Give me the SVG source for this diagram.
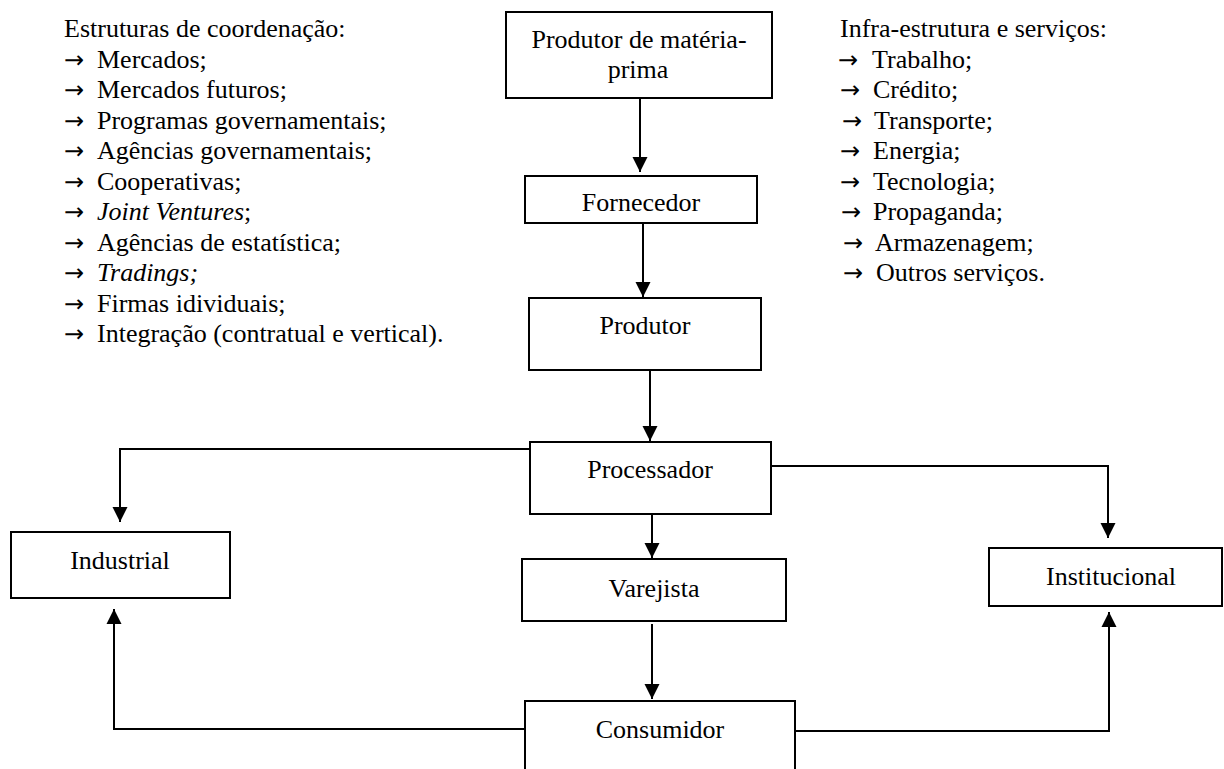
<svg xmlns="http://www.w3.org/2000/svg" width="1224" height="769" viewBox="0 0 1224 769">
<defs>
<style>
.box{fill:#fff;stroke:#000;stroke-width:2}
.lbl{font-family:"Liberation Serif","Times New Roman",serif;font-size:26px;fill:#000;text-anchor:middle}
.lst{font-family:"Liberation Serif","Times New Roman",serif;font-size:26px;fill:#000}
.it{font-style:italic}
.ar{font-family:"DejaVu Sans","Liberation Serif",sans-serif;font-size:24px}
.cn{fill:none;stroke:#000;stroke-width:2}
</style>
<marker id="ah" markerUnits="userSpaceOnUse" markerWidth="16" markerHeight="16" viewBox="0 0 16 16" refX="15" refY="8" orient="auto">
<path d="M0,0.5 L15,8 L0,15.5 Z" fill="#000"/>
</marker>
</defs>
<rect width="1224" height="769" fill="#fff"/>
<g id="list-left" class="lst">
<text x="64" y="37">Estruturas de coordenação:</text>
<text x="64" y="67.5"><tspan class="ar">→</tspan><tspan x="97">Mercados;</tspan></text>
<text x="64" y="98"><tspan class="ar">→</tspan><tspan x="97">Mercados futuros;</tspan></text>
<text x="64" y="128.5"><tspan class="ar">→</tspan><tspan x="97">Programas governamentais;</tspan></text>
<text x="64" y="159"><tspan class="ar">→</tspan><tspan x="97">Agências governamentais;</tspan></text>
<text x="64" y="189.5"><tspan class="ar">→</tspan><tspan x="97">Cooperativas;</tspan></text>
<text x="64" y="220"><tspan class="ar">→</tspan><tspan x="97" class="it">Joint Ventures</tspan><tspan>;</tspan></text>
<text x="64" y="250.5"><tspan class="ar">→</tspan><tspan x="97">Agências de estatística;</tspan></text>
<text x="64" y="281"><tspan class="ar">→</tspan><tspan x="97" class="it">Tradings;</tspan></text>
<text x="64" y="311.5"><tspan class="ar">→</tspan><tspan x="97">Firmas idividuais;</tspan></text>
<text x="64" y="342"><tspan class="ar">→</tspan><tspan x="97">Integração (contratual e vertical).</tspan></text>
</g>
<g id="list-right" class="lst">
<text x="840" y="37">Infra-estrutura e serviços:</text>
<text x="838" y="67.5"><tspan class="ar">→</tspan><tspan x="872">Trabalho;</tspan></text>
<text x="840" y="98"><tspan class="ar">→</tspan><tspan x="873">Crédito;</tspan></text>
<text x="842" y="128.5"><tspan class="ar">→</tspan><tspan x="874">Transporte;</tspan></text>
<text x="840" y="159"><tspan class="ar">→</tspan><tspan x="873">Energia;</tspan></text>
<text x="840" y="189.5"><tspan class="ar">→</tspan><tspan x="873">Tecnologia;</tspan></text>
<text x="841" y="220"><tspan class="ar">→</tspan><tspan x="873">Propaganda;</tspan></text>
<text x="843" y="250.5"><tspan class="ar">→</tspan><tspan x="875">Armazenagem;</tspan></text>
<text x="843" y="281"><tspan class="ar">→</tspan><tspan x="876">Outros serviços.</tspan></text>
</g>
<g id="connectors">
<line class="cn" x1="640" y1="98" x2="640" y2="172" marker-end="url(#ah)"/>
<line class="cn" x1="643" y1="223" x2="643" y2="297" marker-end="url(#ah)"/>
<line class="cn" x1="650" y1="370" x2="650" y2="441" marker-end="url(#ah)"/>
<line class="cn" x1="652" y1="514" x2="652" y2="558" marker-end="url(#ah)"/>
<line class="cn" x1="652" y1="624" x2="652" y2="699" marker-end="url(#ah)"/>
<polyline class="cn" points="530,449 120,449 120,522" marker-end="url(#ah)"/>
<polyline class="cn" points="769,466 1108,466 1108,538" marker-end="url(#ah)"/>
<polyline class="cn" points="525,729 114,729 114,609" marker-end="url(#ah)"/>
<polyline class="cn" points="795,731 1109,731 1109,612" marker-end="url(#ah)"/>
</g>
<g id="n-materia">
<rect class="box" x="506" y="12" width="266" height="86"/>
<text class="lbl" x="639" y="48">Produtor de matéria-</text>
<text class="lbl" x="638" y="78">prima</text>
</g>
<g id="n-fornecedor">
<rect class="box" x="525" y="176" width="232" height="47"/>
<text class="lbl" x="641" y="211">Fornecedor</text>
</g>
<g id="n-produtor">
<rect class="box" x="529" y="298" width="232" height="72"/>
<text class="lbl" x="645" y="334">Produtor</text>
</g>
<g id="n-processador">
<rect class="box" x="530" y="442" width="241" height="72"/>
<text class="lbl" x="650" y="478">Processador</text>
</g>
<g id="n-industrial">
<rect class="box" x="11" y="532" width="219" height="66"/>
<text class="lbl" x="120" y="569">Industrial</text>
</g>
<g id="n-varejista">
<rect class="box" x="522" y="559" width="264" height="62"/>
<text class="lbl" x="654" y="597">Varejista</text>
</g>
<g id="n-institucional">
<rect class="box" x="989" y="548" width="233" height="58"/>
<text class="lbl" x="1111" y="585">Institucional</text>
</g>
<g id="n-consumidor">
<rect class="box" x="525" y="701" width="270" height="90"/>
<text class="lbl" x="660" y="738">Consumidor</text>
</g>
</svg>
